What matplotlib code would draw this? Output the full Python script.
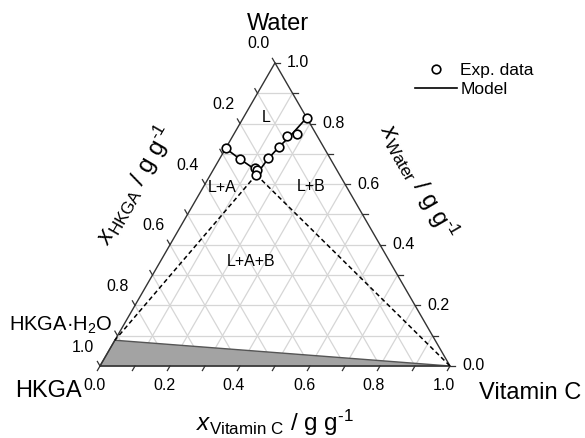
import numpy as np
import matplotlib
matplotlib.use('Agg')
import matplotlib.pyplot as plt

plt.rcParams['font.family'] = 'Liberation Sans'
plt.rcParams['mathtext.fontset'] = 'custom'
plt.rcParams['mathtext.rm'] = 'Liberation Sans'
plt.rcParams['mathtext.it'] = 'Liberation Sans:italic'

# mass fractions (Vitamin C, Water); HKGA = 1 - the two
exp_vitc = [0.000, 0.058, 0.117, 0.125, 0.131, 0.138, 0.150, 0.155, 0.179, 0.181]
exp_water = [0.718, 0.683, 0.652, 0.647, 0.630, 0.685, 0.722, 0.759, 0.765, 0.819]

model_vitc = [0.000, 0.058, 0.118, 0.131, 0.138, 0.150, 0.165, 0.181]
model_water = [0.718, 0.683, 0.649, 0.631, 0.682, 0.722, 0.762, 0.819]

invariant = (0.131, 0.631)
hydrate = (0.000, 0.085)   # HKGA·H2O
vitc_pure = (1.0, 0.0)

ticks = np.round(np.arange(0, 1.01, 0.1), 1)
tick_labels = ['0.0', '0.2', '0.4', '0.6', '0.8', '1.0']

regions = {'L': (0.476, 0.711), 'L+A': (0.348, 0.509),
           'L+B': (0.603, 0.512), 'L+A+B': (0.433, 0.298)}


def tern(c, w):
    c = np.asarray(c, dtype=float)
    w = np.asarray(w, dtype=float)
    return c + w / 2, w * np.sqrt(3) / 2


fig = plt.figure(figsize=(5.85, 4.38), dpi=100)
ax = fig.add_axes([0, 0, 1, 1])
ax.set_xlim(-100 / 350, 485 / 350)
ax.set_ylim(-72 / 350, 366 / 350)
ax.axis('off')

# grid
for t in ticks[1:-1]:
    # constant water
    x, y = tern([0, 1 - t], [t, t])
    ax.plot(x, y, color='#d6d6d6', lw=0.9, zorder=1)
    # constant vitamin C
    x, y = tern([t, t], [0, 1 - t])
    ax.plot(x, y, color='#d6d6d6', lw=0.9, zorder=1)
    # constant HKGA
    x, y = tern([1 - t, 0], [0, 1 - t])
    ax.plot(x, y, color='#d6d6d6', lw=0.9, zorder=1)

# solid phase region
x, y = tern([0, hydrate[0], vitc_pure[0]], [0, hydrate[1], vitc_pure[1]])
ax.fill(x, y, facecolor='#a3a3a3', edgecolor='#555555', lw=1.0, zorder=2)

# triangle frame
x, y = tern([0, 1, 0, 0], [0, 0, 1, 0])
ax.plot(x, y, color='#333333', lw=1.0, zorder=3)

# ticks and tick labels
tl = 0.015
px = 1 / 350
for t in ticks:
    # bottom: vitamin C
    x0, y0 = tern(t, 0)
    ax.plot([x0, x0 - 0.5 * tl], [y0, y0 - 0.866 * tl], color='#333333', lw=0.9)
    # right: water
    x0, y0 = tern(1 - t, t)
    ax.plot([x0, x0 + tl], [y0, y0], color='#333333', lw=0.9)
    # left: HKGA
    x0, y0 = tern(0, 1 - t)
    ax.plot([x0, x0 - 0.5 * tl], [y0, y0 + 0.866 * tl], color='#333333', lw=0.9)

for lab in tick_labels:
    t = float(lab)
    x0, y0 = tern(t, 0)
    ax.text(x0 - 6 * px, y0 - 20 * px, lab, ha='center', va='center', fontsize=11.5)
    x0, y0 = tern(1 - t, t)
    ax.text(x0 + 12 * px, y0, lab, ha='left', va='center', fontsize=11.5)
    x0, y0 = tern(0, 1 - t)
    ax.text(x0 - 17 * px, y0 + 19 * px, lab, ha='center', va='center', fontsize=11.5)

# dashed tie lines
for end in (hydrate, vitc_pure):
    x, y = tern([invariant[0], end[0]], [invariant[1], end[1]])
    ax.plot(x, y, color='black', lw=1.1, ls=(0, (3, 2)), zorder=4)

# model and data
x, y = tern(model_vitc, model_water)
ax.plot(x, y, color='black', lw=1.2, zorder=5, label='Model')
x, y = tern(exp_vitc, exp_water)
ax.plot(x, y, 'o', ms=6.2, mfc='white', mec='black', mew=1.2, zorder=6,
        label='Exp. data')

for name, (xr, yr) in regions.items():
    ax.text(xr, yr, name, ha='center', va='center', fontsize=11.5, zorder=7)

# vertex labels
ax.text(178 * px, 342 * px, 'Water', ha='center', va='center', fontsize=17)
ax.text(-52 * px, -25 * px, 'HKGA', ha='center', va='center', fontsize=17)
ax.text(430 * px, -27 * px, 'Vitamin C', ha='center', va='center', fontsize=17)
ax.text(13 * px, 41 * px, 'HKGA·H$_2$O', ha='right', va='center', fontsize=14.5)

# axis titles
unit = r' / g g$^{\text{-1}}$'
ax.text(35 * px, 181 * px, r'$x_{\mathrm{HKGA}}$' + unit, rotation=60,
        ha='center', va='center', fontsize=17.5, rotation_mode='anchor')
ax.text(318 * px, 184 * px, r'$x_{\mathrm{Water}}$' + unit, rotation=-60,
        ha='center', va='center', fontsize=17.5, rotation_mode='anchor')
ax.text(175 * px, -57 * px, r'$x_{\mathrm{Vitamin\ C}}$' + unit,
        ha='center', va='center', fontsize=17.5)

h, l = ax.get_legend_handles_labels()
ax.legend(h[::-1], l[::-1], loc='upper left', bbox_to_anchor=(415 / 585, 1 - 63 / 438),
          frameon=False, fontsize=12.5, handlelength=2.4, handletextpad=0.2,
          borderpad=0, borderaxespad=0, labelspacing=0.2)

fig.savefig('out.png', dpi=100)
